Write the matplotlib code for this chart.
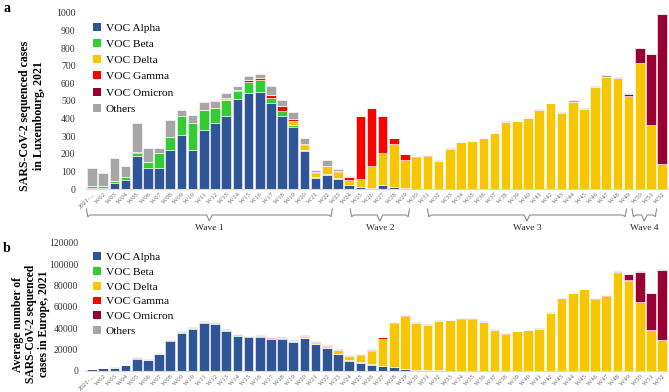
import matplotlib
matplotlib.use('Agg')
import matplotlib.pyplot as plt
from matplotlib.patches import Patch
from matplotlib.lines import Line2D
import numpy as np

plt.rcParams['font.family'] = ['Liberation Serif', 'DejaVu Serif']

# Week labels
weeks = ['2021-...'] + ['W%02d' % i for i in range(2, 53)]

variants = ['VOC Alpha', 'VOC Beta', 'VOC Delta', 'VOC Gamma', 'VOC Omicron', 'Others']
colors = ['#2F5597', '#33CC33', '#F7C600', '#FF0000', '#990033', '#A6A6A6']

# Panel a: Luxembourg sequenced cases
lux_alpha = [8, 8, 34, 53, 186, 121, 121, 222, 304, 222, 336, 375, 417, 510, 546, 550,
             486, 414, 355, 216, 63, 78, 59, 21, 13, 8, 25, 13, 6, 0, 0, 0,
             0, 0, 0, 0, 0, 0, 0, 0, 0, 0, 0, 0, 0, 0, 0, 0, 0, 0, 0, 0]
lux_beta = [7, 10, 11, 17, 19, 35, 84, 72, 110, 154, 112, 87, 86, 44, 63, 67,
            32, 30, 7, 8, 3, 6, 6, 4, 0, 0, 0, 0, 0, 0, 0, 0,
            0, 0, 0, 0, 0, 0, 0, 0, 0, 0, 0, 0, 0, 0, 0, 0, 0, 0, 0, 0]
lux_delta = [0, 0, 0, 0, 0, 0, 0, 0, 0, 0, 0, 0, 8, 0, 0, 0,
             0, 0, 23, 25, 23, 49, 32, 24, 42, 123, 182, 241, 157, 184, 188, 157,
             230, 266, 273, 290, 319, 383, 384, 403, 451, 488, 433, 497, 453, 581, 636, 628,
             531, 717, 361, 140]
lux_gamma = [0, 0, 0, 0, 4, 0, 0, 0, 3, 0, 0, 0, 6, 8, 8, 11,
             17, 25, 13, 9, 6, 0, 7, 17, 362, 330, 209, 38, 36, 6, 7, 0,
             0, 0, 0, 0, 0, 0, 0, 0, 0, 0, 0, 0, 0, 0, 0, 0, 0, 0, 0, 0]
lux_omicron = [0] * 46 + [0, 0, 8, 82, 404, 854]
lux_others = [103, 71, 133, 61, 165, 77, 28, 99, 33, 42, 47, 38, 29, 24, 26, 27,
              48, 38, 40, 29, 13, 30, 8, 8, 0, 0, 0, 0, 0, 0, 0, 8,
              3, 2, 2, 2, 2, 2, 1, 1, 1, 2, 3, 10, 8, 2, 11, 8,
              6, 0, 0, 0]

# Panel b: Europe, average sequenced cases
eu_alpha = [1500, 2400, 3200, 5300, 11200, 10300, 15900, 27800, 35600, 39700, 45000, 44400,
            37800, 32800, 31600, 31900, 30300, 29700, 26900, 30900, 25600, 21300, 16300, 9700,
            7500, 5600, 5000, 3400, 1900, 1200, 900, 500] + [0] * 20
eu_beta = [0, 0, 0, 0, 300, 400, 300, 0, 500, 600, 700, 600,
           800, 600, 0, 0, 600, 0, 900, 0, 0, 0, 0, 600,
           900, 1200, 0, 0, 0, 0, 0, 0, 400] + [0] * 19
eu_delta = [0] * 19 + [900, 900, 1300, 3800, 3500, 6300, 12200, 25000, 41600, 50000, 43400,
                       42000, 46200, 47200, 48500, 48700, 46200, 38600, 35000, 37200, 38100,
                       39700, 54700, 68500, 72800, 76900, 67400, 70600, 91500, 84700, 64400,
                       38400, 29000]
eu_gamma = [0, 0, 0, 0, 600, 0, 0, 800, 0, 0, 600, 400,
            0, 900, 800, 900, 600, 1200, 0, 900, 900, 900, 0, 300,
            900, 900, 1500, 900, 300, 800, 0, 500, 0, 1200, 600, 0,
            0, 700, 0, 0, 0, 0, 0, 0, 0, 900, 500, 0, 900, 0, 0, 0]
eu_omicron = [0] * 46 + [300, 1600, 5000, 28800, 34500, 66100]
eu_others = [400, 700, 800, 600, 700, 500, 700, 800, 1100, 1000, 900, 500,
             400, 400, 400, 600, 700, 700, 1000, 700, 700, 600, 800, 600,
             300, 400, 400, 300, 300, 200, 1200, 600, 200, 300, 400, 400,
             400, 200, 300, 300, 300, 300, 300, 300, 300, 100, 200, 300, 300, 200, 200, 200]

waves = [('Wave 1', -0.5, 21.5), ('Wave 2', 23.1, 28.4),
         ('Wave 3', 30.0, 47.8), ('Wave 4', 48.3, 50.5)]

W, H = 669, 392
fig = plt.figure(figsize=(W / 100, H / 100), dpi=100)

def px(x0, y0, x1, y1):
    # pixel box -> figure fraction [left, bottom, width, height]
    return [x0 / W, 1 - y1 / H, (x1 - x0) / W, (y1 - y0) / H]

ax1 = fig.add_axes(px(85.3, 13, 668.9, 189))
ax2 = fig.add_axes(px(85.3, 243, 668.9, 371))

x = np.arange(len(weeks))


def stacked(ax, series):
    bottom = np.zeros(len(weeks))
    for vals, c in zip(series, colors):
        vals = np.array(vals, dtype=float)
        ax.bar(x, vals, bottom=bottom, width=0.86, color=c, edgecolor='white', linewidth=0.4)
        bottom += vals
    ax.set_xlim(-0.6, len(weeks) - 0.4)
    ax.set_xticks(x)
    ax.set_xticklabels(weeks, rotation=45, ha='right', rotation_mode='anchor',
                       fontsize=4.8, color='#6b6b6b')
    for s in ['top', 'right', 'left']:
        ax.spines[s].set_visible(False)
    ax.spines['bottom'].set_color('#d9d9d9')
    ax.tick_params(axis='both', length=0)
    ax.tick_params(axis='y', labelsize=7, colors='#333333')
    ax.tick_params(axis='x', pad=2)
    handles = [Patch(facecolor=c, edgecolor='none', label=v) for v, c in zip(variants, colors)]
    return handles


h1 = stacked(ax1, [lux_alpha, lux_beta, lux_delta, lux_gamma, lux_omicron, lux_others])
ax1.set_ylim(0, 1000)
ax1.set_yticks(range(0, 1001, 100))
ax1.tick_params(axis='y', pad=7)
ax1.legend(handles=h1, loc='upper left', bbox_to_anchor=(0.0, 0.99), frameon=False,
           fontsize=8.2, handlelength=0.7, handleheight=0.7, handletextpad=0.4,
           labelspacing=0.55, borderaxespad=0.3)

h2 = stacked(ax2, [eu_alpha, eu_beta, eu_delta, eu_gamma, eu_omicron, eu_others])
ax2.set_ylim(0, 120000)
ax2.set_yticks(range(0, 120001, 20000))
ax2.tick_params(axis='y', pad=5)
ax2.legend(handles=h2, loc='upper left', bbox_to_anchor=(0.0, 0.99), frameon=False,
           fontsize=8.2, handlelength=0.7, handleheight=0.7, handletextpad=0.4,
           labelspacing=0.42, borderaxespad=0.3)

# Axis titles placed as rotated figure texts
fig.text(32 / W, 1 - 116 / H, 'SARS-CoV-2 sequenced cases\nin Luxembourg, 2021', rotation=90,
         ha='center', va='center', fontsize=8.6, fontweight='bold', linespacing=1.25)
fig.text(31 / W, 1 - 324 / H, 'Average number of\nSARS-CoV-2 sequenced\ncases in Europe, 2021',
         rotation=90, ha='center', va='center', fontsize=8.4, fontweight='bold', linespacing=1.1)

# Wave braces below panel a
tr = matplotlib.transforms.blended_transform_factory(ax1.transData, fig.transFigure)
yend, yline, ynotch, ytext = [1 - v / H for v in (209, 215, 221, 228)]
for name, a, b in waves:
    c = (a + b) / 2
    xs = [a, a + 0.12, a + 0.35, c - 0.25, c, c + 0.25, b - 0.35, b - 0.12, b]
    ys = [yend, yline - 0.004, yline, yline, ynotch, yline, yline, yline - 0.004, yend]
    ax1.add_line(Line2D(xs, ys, transform=tr, color='#8c8c8c', lw=0.8, clip_on=False))
    ax1.text(c, ytext, name, transform=tr, ha='center', va='center', fontsize=6.8, color='#262626')

fig.text(3 / W, 1 - 8 / H, 'a', fontsize=10, fontweight='bold', va='center', ha='left')
fig.text(3 / W, 1 - 248 / H, 'b', fontsize=10, fontweight='bold', va='center', ha='left')

fig.savefig('out.png', dpi=100)
